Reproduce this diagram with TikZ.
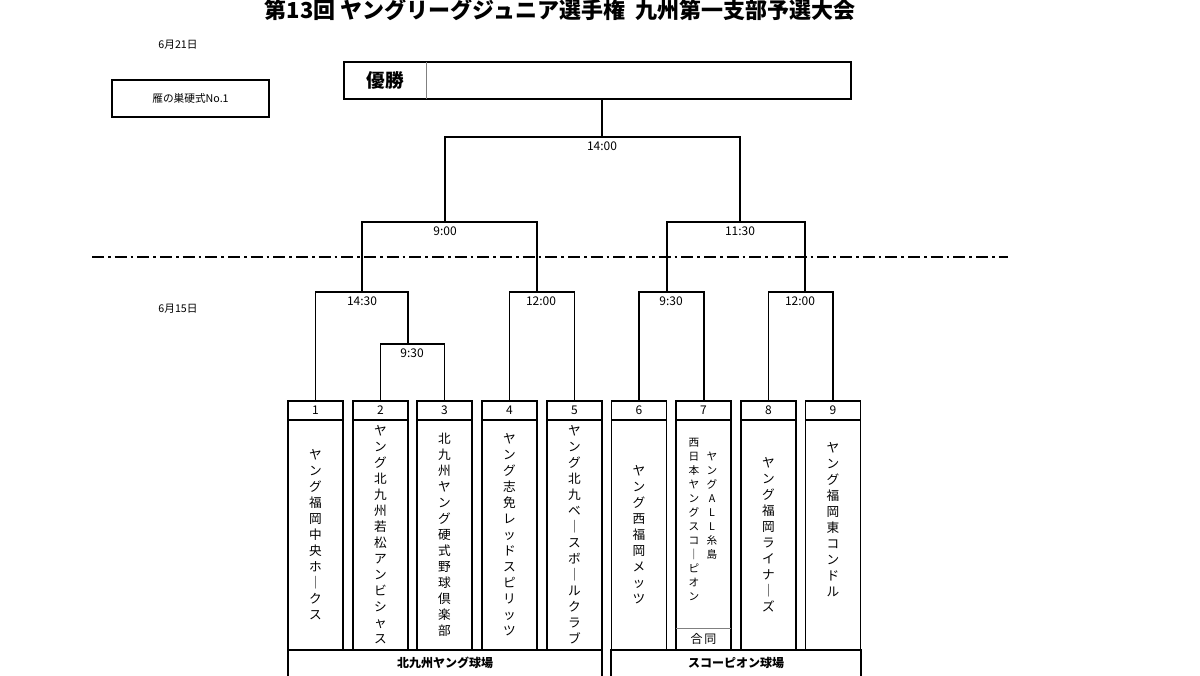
\documentclass[tikz,border=0pt]{standalone}
\usepackage{fontspec}
\setmainfont{Noto Sans CJK JP}
\begin{document}
\begin{tikzpicture}
    [x=0.75pt, y=-0.75pt,
    box/.style={draw, thick},
    line/.style={thick},
    time/.style={font=\fontsize{9}{10}\selectfont},
    team/.style={align=center, font=\fontsize{9.5}{12}\selectfont, inner sep=0pt},
    num/.style={font=\fontsize{9}{10}\selectfont}]

    \useasboundingbox (0,0) rectangle (1200,675);

    % heading
    \node[font=\bfseries\fontsize{16.5}{18}\selectfont] (title) at (560,10) {第13回 ヤングリーグジュニア選手権\ \ 九州第一支部予選大会};
    \node[font=\fontsize{8}{10}\selectfont] (day1) at (178,45) {6月21日};
    \node[font=\fontsize{8}{10}\selectfont] (day2) at (178,309) {6月15日};
    \draw[box] (112,80) rectangle (269,117);
    \node[font=\fontsize{8}{10}\selectfont] (field) at (190.5,98.5) {雁の巣硬式No.1};

    % champion box
    \draw[box] (344,62) rectangle (851,99);
    \draw[thin, gray] (426,62) -- (426,99);
    \node[font=\bfseries\fontsize{14}{16}\selectfont] (win) at (385,80.5) {優勝};

    % day split
    \draw[very thick, dash pattern=on 9pt off 3pt on 2pt off 3pt] (92,257) -- (1008,257);

    % team boxes
    \foreach \i/\x in {1/315.5,2/380.5,3/444.5,4/509.5,5/574.5,6/639,7/703.5,8/768.5,9/833} {
        \draw[box] (\x-27.5,401) rectangle (\x+27.5,420);
        \draw[box] (\x-27.5,420) rectangle (\x+27.5,650);
        \node[num] (n\i) at (\x,410.5) {\i};
    }
    \draw[box] (288,650) rectangle (602,680);
    \draw[box] (611,650) rectangle (861,680);
    \node[font=\bfseries\fontsize{9}{10}\selectfont] (v1) at (445,663) {北九州ヤング球場};
    \node[font=\bfseries\fontsize{9}{10}\selectfont] (v2) at (736,663) {スコーピオン球場};

    % team names
    \node[team] (t1) at (315.5,535) {ヤ\\ン\\グ\\福\\岡\\中\\央\\ホ\\｜\\ク\\ス};
    \node[team] (t2) at (380.5,535) {ヤ\\ン\\グ\\北\\九\\州\\若\\松\\ア\\ン\\ビ\\シ\\ャ\\ス};
    \node[team] (t3) at (444.5,535) {北\\九\\州\\ヤ\\ン\\グ\\硬\\式\\野\\球\\倶\\楽\\部};
    \node[team] (t4) at (509.5,535) {ヤ\\ン\\グ\\志\\免\\レ\\ッ\\ド\\ス\\ピ\\リ\\ッ\\ツ};
    \node[team] (t5) at (574.5,535) {ヤ\\ン\\グ\\北\\九\\ベ\\｜\\ス\\ボ\\｜\\ル\\ク\\ラ\\ブ};
    \node[team] (t6) at (639,535) {ヤ\\ン\\グ\\西\\福\\岡\\メ\\ッ\\ツ};
    \node[team, font=\fontsize{8}{10.5}\selectfont, anchor=north] (t7a) at (694,438) {西\\日\\本\\ヤ\\ン\\グ\\ス\\コ\\｜\\ピ\\オ\\ン};
    \node[team, font=\fontsize{8}{10.5}\selectfont, anchor=north] (t7b) at (712,452) {ヤ\\ン\\グ\\A\\L\\L\\糸\\島};
    \draw[thin, gray] (676,628) -- (731,628);
    \node[num] (join) at (703.5,639) {合\,同};
    \node[team] (t8) at (768.5,535) {ヤ\\ン\\グ\\福\\岡\\ラ\\イ\\ナ\\｜\\ズ};
    \node[team] (t9) at (833,520) {ヤ\\ン\\グ\\福\\岡\\東\\コ\\ン\\ド\\ル};

    % first round
    \draw[line] (380.5,401) |- (444.5,344) -- (444.5,401);
    \node[time, below] at (412,344) {9:30};
    \draw[line] (315.5,401) |- (408,292) -- (408,344);
    \node[time, below] at (362,292) {14:30};
    \draw[line] (509.5,401) |- (574.5,292) -- (574.5,401);
    \node[time, below] at (541,292) {12:00};
    \draw[line] (639,401) |- (704,292) -- (704,401);
    \node[time, below] at (671,292) {9:30};
    \draw[line] (768.5,401) |- (833,292) -- (833,401);
    \node[time, below] at (800,292) {12:00};

    % semi finals
    \draw[line] (362,292) |- (537,222) -- (537,292);
    \node[time, below] at (445,222) {9:00};
    \draw[line] (667,292) |- (805,222) -- (805,292);
    \node[time, below] at (740,222) {11:30};

    % final
    \draw[line] (445,222) |- (740,137) -- (740,222);
    \draw[line] (602,137) -- (602,99);
    \node[time, below] at (602,137) {14:00};
\end{tikzpicture}
\end{document}
